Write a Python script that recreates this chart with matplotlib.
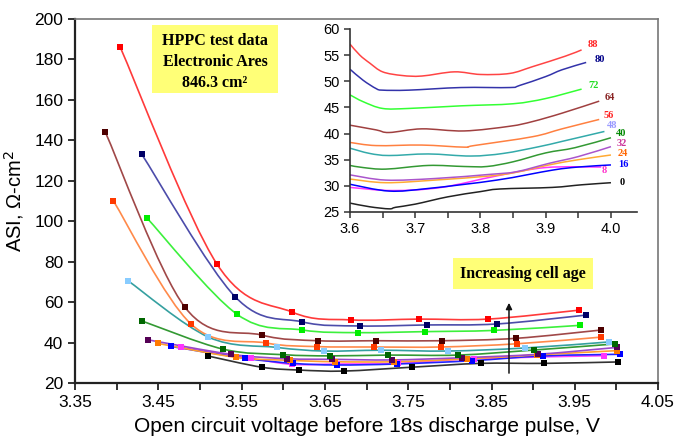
#plot.py
#ASI vs open circuit voltage for HPPC tests at several cell ages
#main plot with smoothed lines and an inset zoom of 3.6-4.0 V

import numpy as np
import matplotlib
matplotlib.use("Agg")
import matplotlib.pyplot as plt
from matplotlib.path import Path
from matplotlib.patches import PathPatch, Rectangle

#cell age (weeks) and colours: line, marker, inset line, inset label
ages=[0,8,16,24,32,40,48,56,64,72,80,88]
line_col=['#333333','#ff44ff','#2222ff','#ffa030','#9a48c8','#339933','#35a0a0','#ff8a4a','#a04848','#3cf03c','#4c4caa','#ff3a3a']
mark_col=['#000000','#ff33ff','#0000ff','#ff7a00','#550055','#006600','#88ccff','#ff3a00','#4d0000','#00ee00','#000066','#ff0000']
inset_col=['#222222','#ff33ff','#0000ff','#ffaa33','#aa55cc','#339933','#33aaaa','#ff8040','#a04040','#33ff33','#3333aa','#ff4444']
lab_col=['#000000','#ff33cc','#0000ff','#ff6600','#cc3399','#008800','#9999ff','#ff2222','#882222','#22dd22','#000088','#ff2222']

#main plot data (V, ohm-cm2)
V0=[3.509,3.574,3.619,3.673,3.754,3.837,3.913,4.002]
A0=[33.4,27.8,26.4,25.9,27.8,29.7,29.7,30.4]
V8=[3.477,3.561,3.611,3.665,3.738,3.829,3.985]
A8=[37.6,32.2,29.2,29.4,29.7,32.0,33.5]
V16=[3.465,3.554,3.612,3.664,3.736,3.826,3.912,4.004]
A16=[38.1,32.2,29.7,28.9,29.4,31.0,33.4,34.2]
V24=[3.449,3.543,3.608,3.662,3.733,3.820,3.905,4.001]
A24=[39.6,32.7,31.2,30.5,30.5,31.9,33.9,36.0]
V32=[3.438,3.537,3.605,3.659,3.730,3.815,3.906,4.001]
A32=[41.3,34.2,32.0,31.7,31.4,32.5,34.2,37.6]
V40=[3.430,3.527,3.600,3.656,3.726,3.810,3.901,3.998]
A40=[50.7,36.8,34.0,33.4,33.8,33.8,36.3,39.3]
V48=[3.414,3.510,3.592,3.649,3.717,3.798,3.890,3.991]
A48=[70.4,42.7,37.6,35.8,36.2,35.8,37.3,40.3]
V56=[3.396,3.489,3.579,3.640,3.709,3.789,3.881,3.982]
A56=[110.0,49.2,39.8,38.0,37.8,37.8,39.4,42.7]
V64=[3.386,3.482,3.574,3.642,3.711,3.791,3.880,3.982]
A64=[144.3,57.4,43.7,40.9,40.9,40.9,42.1,46.2]
V72=[3.436,3.544,3.623,3.690,3.770,3.853,3.956]
A72=[101.7,54.1,46.2,44.9,45.4,46.0,48.5]
V80=[3.430,3.542,3.623,3.692,3.772,3.857,3.964]
A80=[133.1,62.7,50.2,48.2,48.7,49.2,53.6]
V88=[3.404,3.520,3.611,3.681,3.763,3.846,3.955]
A88=[186.2,79.0,55.0,51.2,51.6,51.6,56.0]

#inset data
iV0=[3.60,3.63,3.66,3.67,3.70,3.75,3.80,3.83,3.91,3.955,4.00]
iA0=[26.7,26.0,25.6,25.9,26.5,27.9,28.9,29.4,29.7,30.2,30.6]
iV8=[3.60,3.665,3.74,3.825,3.90,3.985]
iA8=[29.7,29.1,29.7,31.9,33.5,33.6]
iV16=[3.60,3.66,3.72,3.825,3.91,3.95,4.00]
iA16=[30.3,29.0,29.5,31.1,33.0,33.6,34.0]
iV24=[3.60,3.655,3.73,3.815,3.855,3.905,3.95,4.00]
iA24=[31.3,30.6,31.1,31.9,32.6,34.0,35.0,35.9]
iV32=[3.60,3.655,3.73,3.815,3.855,3.905,3.95,4.00]
iA32=[32.1,31.1,31.4,32.2,32.7,34.3,35.6,37.5]
iV40=[3.60,3.62,3.655,3.72,3.775,3.81,3.85,3.90,3.945,4.00]
iA40=[33.9,33.5,33.2,33.9,33.7,33.7,34.6,36.3,37.3,39.2]
iV48=[3.60,3.63,3.66,3.72,3.785,3.835,3.89,3.925,3.99]
iA48=[37.2,36.2,35.8,36.1,35.7,36.2,37.5,38.5,40.4]
iV56=[3.60,3.64,3.71,3.775,3.79,3.88,3.925,3.982]
iA56=[38.3,37.7,37.8,37.4,37.7,39.4,40.9,42.7]
iV64=[3.60,3.64,3.66,3.71,3.775,3.845,3.88,3.925,3.982]
iA64=[41.6,40.7,40.2,40.9,40.5,41.4,42.3,43.9,46.2]
iV72=[3.60,3.62,3.65,3.69,3.77,3.85,3.90,3.955]
iA72=[47.4,46.1,44.8,44.8,45.3,45.7,46.7,48.5]
iV80=[3.60,3.62,3.64,3.65,3.69,3.77,3.845,3.86,3.90,3.925,3.962]
iA80=[52.3,50.2,48.6,48.3,48.3,48.8,48.8,49.2,50.9,52.2,53.6]
iV88=[3.600,3.615,3.63,3.65,3.68,3.71,3.76,3.80,3.845,3.88,3.93,3.955]
iA88=[57.1,55.0,53.5,51.8,51.1,51.0,51.8,51.3,51.5,52.8,54.8,56.0]

#inset label positions
labV=[4.013,3.985,4.011,4.010,4.009,4.008,3.993,3.989,3.991,3.966,3.975,3.964]
labA=[30.6,32.9,34.0,36.1,38.1,40.1,41.5,43.5,46.9,49.1,54.1,57.1]

main_V=[V0,V8,V16,V24,V32,V40,V48,V56,V64,V72,V80,V88]
main_A=[A0,A8,A16,A24,A32,A40,A48,A56,A64,A72,A80,A88]
ins_V=[iV0,iV8,iV16,iV24,iV32,iV40,iV48,iV56,iV64,iV72,iV80,iV88]
ins_A=[iA0,iA8,iA16,iA24,iA32,iA40,iA48,iA56,iA64,iA72,iA80,iA88]

#arrow (V, ASI)
arrow_V=3.871
arrow_A0=23.5
arrow_A1=61.0

def smooth_path(x,y):
    #catmull-rom curve through the points, as cubic bezier segments
    pts=np.column_stack([x,y]).astype(float)
    n=len(pts)
    verts=[pts[0]];codes=[Path.MOVETO]
    for i in range(n-1):
        p0=pts[i-1] if i>0 else pts[i]
        p1=pts[i];p2=pts[i+1]
        p3=pts[i+2] if i+2<n else pts[i+1]
        verts+=[p1+(p2-p0)/6.0,p2-(p3-p1)/6.0,p2]
        codes+=[Path.CURVE4]*3
    return Path(verts,codes)

plt.rcParams['font.family']=['Liberation Sans','DejaVu Sans']

fig=plt.figure(figsize=(6.77,4.37),dpi=100)
ax=fig.add_axes([0.111,0.1236,0.861,0.8329])
ax.set_xlim(3.35,4.05)
ax.set_ylim(20,200)

for i in range(len(ages)):
    ax.add_patch(PathPatch(smooth_path(main_V[i],main_A[i]),fill=False,edgecolor=line_col[i],lw=1.2,zorder=2))
    ax.plot(main_V[i],main_A[i],'s',color=mark_col[i],markersize=4,markeredgewidth=0,zorder=3)

ax.set_xticks(np.arange(3.35,4.051,0.1))
ax.set_xticks(np.arange(3.40,4.01,0.1),minor=True)
ax.set_xticklabels(["%.2f" % v for v in np.arange(3.35,4.051,0.1)])
ax.set_yticks(np.arange(20,201,20))
ax.tick_params(axis='both',which='major',labelsize=12.5,direction='out',length=5,width=1.3,color='#222222')
ax.tick_params(axis='x',which='minor',direction='out',length=5,width=1.3,color='#222222')
for s in ['left','bottom']:
    ax.spines[s].set_linewidth(1.6)
    ax.spines[s].set_color('#222222')
for s in ['top','right']:
    ax.spines[s].set_linewidth(1.2)
    ax.spines[s].set_color('#777777')
ax.set_xlabel("Open circuit voltage before 18s discharge pulse, V",fontsize=15,labelpad=5)
ax.set_ylabel("ASI, Ω-cm$^2$",fontsize=14.5,labelpad=6)

ax.annotate('',xy=(arrow_V,arrow_A1),xytext=(arrow_V,arrow_A0),
            arrowprops=dict(arrowstyle='-|>',color='#111111',lw=1.1,mutation_scale=9),zorder=4)

#yellow note boxes
fig.patches.append(Rectangle((0.2245,0.7872),0.186,0.1556,transform=fig.transFigure,facecolor='#ffff77',edgecolor='none',zorder=5))
fig.text(0.3176,0.858,"HPPC test data\nElectronic Ares\n846.3 cm²",ha='center',va='center',fontsize=11.5,
         fontweight='bold',family='Liberation Serif',linespacing=1.4,zorder=6)
fig.patches.append(Rectangle((0.669,0.3387),0.2068,0.0709,transform=fig.transFigure,facecolor='#ffff77',edgecolor='none',zorder=5))
fig.text(0.7725,0.374,"Increasing cell age",ha='center',va='center',fontsize=11.5,
         fontweight='bold',family='Liberation Serif',zorder=6)

#inset
ins=fig.add_axes([0.517,0.5149,0.424,0.4188])
ins.set_xlim(3.6,4.04)
ins.set_ylim(25,60)
for i in range(len(ages)):
    ins.add_patch(PathPatch(smooth_path(ins_V[i],ins_A[i]),fill=False,edgecolor=inset_col[i],lw=1.1))
    ins.text(labV[i],labA[i],str(ages[i]),color=lab_col[i],fontsize=7.5,fontweight='bold',
             family='Liberation Serif',ha='left',va='center')
ins.set_xticks(np.arange(3.6,4.01,0.1))
ins.set_xticks(np.arange(3.65,4.0,0.1),minor=True)
ins.set_xticklabels(["%.1f" % v for v in np.arange(3.6,4.01,0.1)])
ins.set_yticks(np.arange(25,61,5))
ins.tick_params(axis='both',which='major',labelsize=10.5,direction='out',length=4,width=1.1,color='#333333')
ins.tick_params(axis='x',which='minor',direction='out',length=4,width=1.1,color='#333333')
ins.spines['top'].set_visible(False)
ins.spines['right'].set_visible(False)
for s in ['left','bottom']:
    ins.spines[s].set_linewidth(1.2)
    ins.spines[s].set_color('#333333')

fig.savefig("out.png",dpi=100)
